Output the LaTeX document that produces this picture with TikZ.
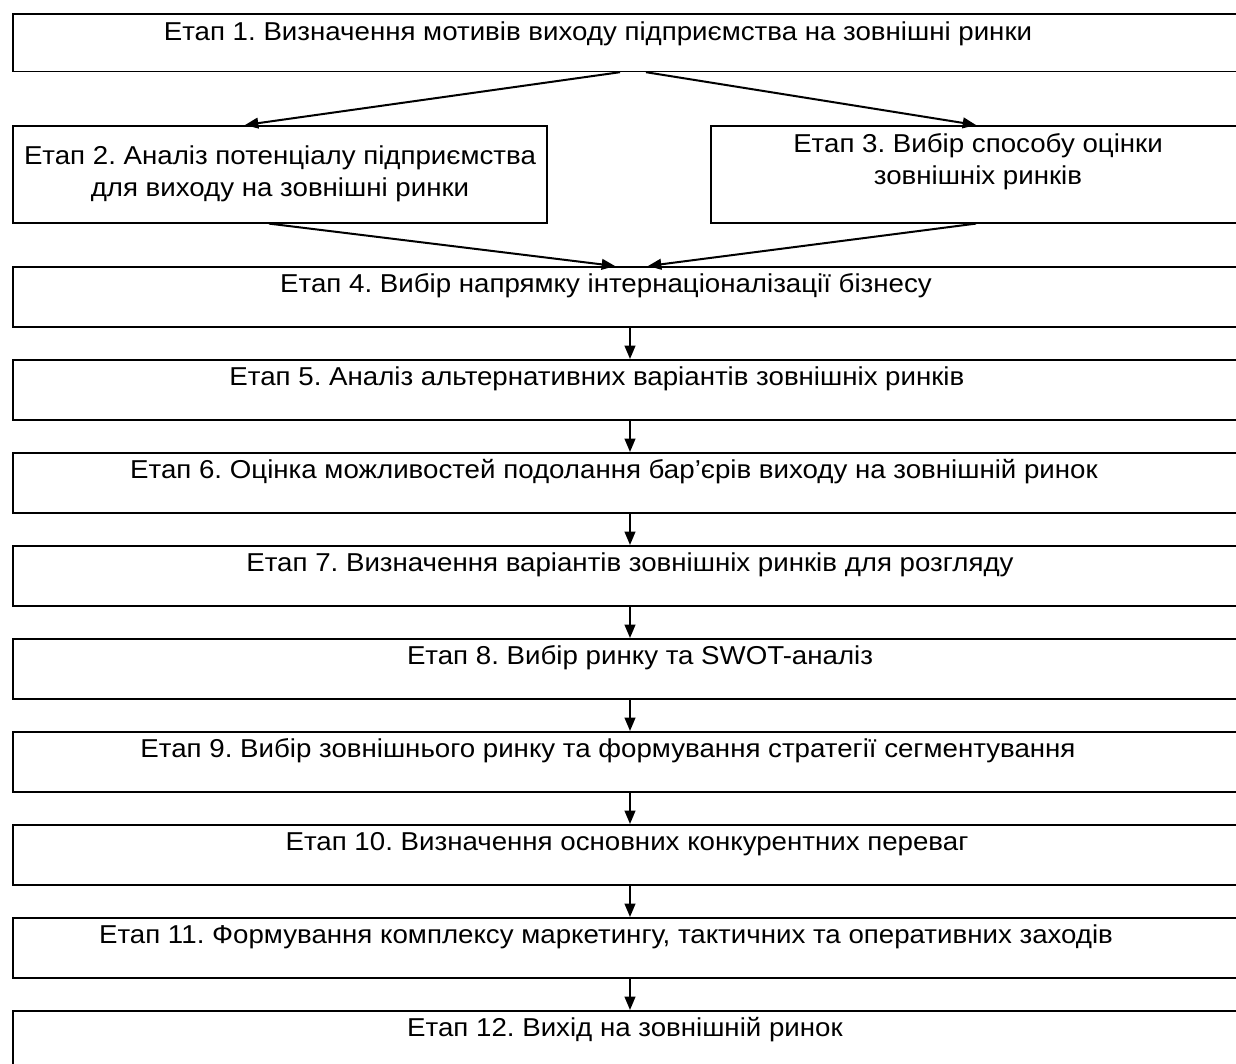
\documentclass[tikz,border=0pt]{standalone}
\usepackage{fontspec}
\setmainfont[FakeStretch=1.07]{Liberation Sans}
\usetikzlibrary{arrows.meta,calc}
\begin{document}
\frenchspacing
\begin{tikzpicture}[x=0.75pt,y=-0.75pt,
  box/.style={draw=black, line width=1.2pt, rectangle, inner sep=0pt, anchor=north west},
  wide/.style={box, minimum width=927pt, minimum height=45pt},
  txt/.style={font=\fontsize{19.4}{24}\selectfont, align=center, inner sep=0pt},
  arr/.style={line width=1.5pt, -{Triangle[length=10pt,width=8pt]}}]
\useasboundingbox (0,0) rectangle (1236,1064);
\clip (0,0) rectangle (1236,1064);
% boxes
\node[box, minimum width=927pt, minimum height=43.2pt] (b1) at (12,13) {};
\node[box, minimum width=400.5pt, minimum height=72.75pt] (b2) at (12,125) {};
\node[box, minimum width=403.5pt, minimum height=72.75pt] (b3) at (710,125) {};
\foreach \i [evaluate=\i as \yy using 266+93*(\i-4)] in {4,...,12}
  \node[wide] (b\i) at (12,\yy) {};
% texts
\node[txt] (t1) at (598,34) {Етап 1. Визначення мотивів виходу підприємства на зовнішні ринки};
\node[txt] (t2) at (280,174) {Етап 2. Аналіз потенціалу підприємства\\для виходу на зовнішні ринки};
\node[txt] (t3) at (978,162) {Етап 3. Вибір способу оцінки\\зовнішніх ринків};
\node[txt] (t4) at (606,286) {Етап 4. Вибір напрямку інтернаціоналізації бізнесу};
\node[txt] (t5) at (597,379) {Етап 5. Аналіз альтернативних варіантів зовнішніх ринків};
\node[txt] (t6) at (614,472) {Етап 6. Оцінка можливостей подолання бар’єрів виходу на зовнішній ринок};
\node[txt] (t7) at (630,565) {Етап 7. Визначення варіантів зовнішніх ринків для розгляду};
\node[txt] (t8) at (640,658) {Етап 8. Вибір ринку та SWOT-аналіз};
\node[txt] (t9) at (608,751) {Етап 9. Вибір зовнішнього ринку та формування стратегії сегментування};
\node[txt] (t10) at (627,844) {Етап 10. Визначення основних конкурентних переваг};
\node[txt] (t11) at (606,937) {Етап 11. Формування комплексу маркетингу, тактичних та оперативних заходів};
\node[txt] (t12) at (625,1030) {Етап 12. Вихід на зовнішній ринок};
% connectors
\draw[arr] ($(b1.south west)+(608,0)$) -- ($(b2.north west)+(233,0)$);
\draw[arr] ($(b1.south west)+(634,0)$) -- ($(b3.north west)+(266,0)$);
\draw[arr] ($(b2.south west)+(257,0)$) -- ($(b4.north west)+(603,0)$);
\draw[arr] ($(b3.south west)+(266,0)$) -- ($(b4.north west)+(636,0)$);
\foreach \i [evaluate=\i as \j using int(\i+1)] in {4,...,11}
  \draw[arr] ($(b\i.south west)+(618,0)$) -- ($(b\j.north west)+(618,0)$);
\end{tikzpicture}
\end{document}
